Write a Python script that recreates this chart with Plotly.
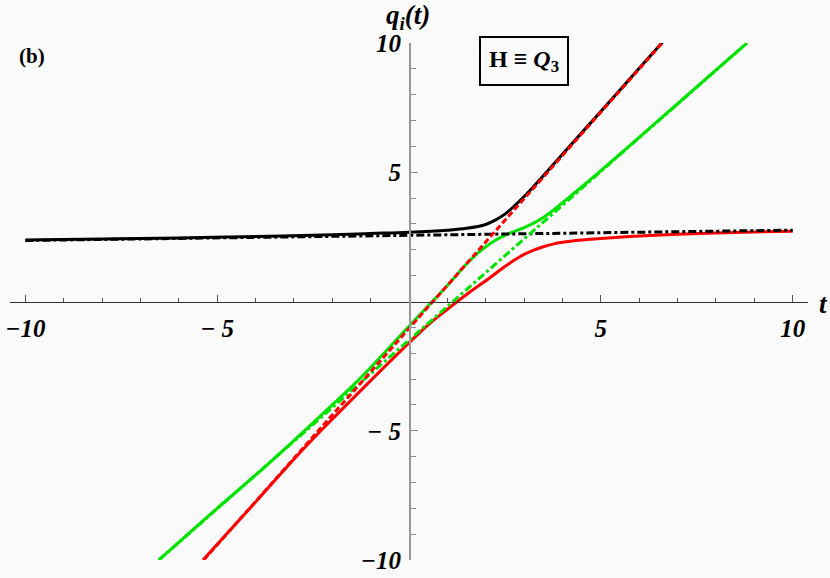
import plotly.graph_objects as go

# ---- data ----
t_black = [-10, -8, -6, -4, -2, -1, 0, 1, 1.5, 2.0, 2.25, 2.5, 2.75, 3.0, 3.25, 3.5, 4, 5, 6, 6.6]
q_black = [2.38, 2.42, 2.46, 2.51, 2.58, 2.63, 2.68, 2.76, 2.83, 2.98, 3.15, 3.38, 3.7, 4.06, 4.45, 4.86, 5.7, 7.35, 9.02, 10.02]

t_green = [-6.52, -5, -4, -3, -2, -1.5, -1, -0.5, 0, 0.55, 1, 1.5, 1.8, 2.0, 2.25, 2.5, 2.75, 3.0, 3.25, 3.5, 3.75, 4.0, 4.5, 5, 6, 7, 8, 8.81]
q_green = [-10.0, -8.0, -6.72, -5.38, -4.0, -3.3, -2.55, -1.76, -0.96, -0.09, 0.62, 1.45, 1.88, 2.12, 2.37, 2.56, 2.71, 2.86, 3.03, 3.25, 3.52, 3.82, 4.43, 5.06, 6.35, 7.65, 8.95, 10.0]

t_red = [-5.37, -4, -3, -2.5, -2, -1, 0, 0.5, 1, 1.5, 2.11, 2.5, 2.8, 3.0, 3.25, 3.5, 3.75, 4.0, 4.5, 5.0, 6, 7, 8, 9, 10]
q_red = [-10.0, -7.76, -6.1, -5.31, -4.55, -3.06, -1.6, -0.9, -0.3, 0.27, 0.92, 1.35, 1.65, 1.82, 1.99, 2.12, 2.22, 2.29, 2.38, 2.44, 2.53, 2.6, 2.65, 2.69, 2.72]

# free-motion (asymptotic) lines, endpoints
t_black_free = [-10, 10]
q_black_free = [2.36, 2.76]
t_red_free = [-5.35, 6.6]
q_red_free = [-10.0, 10.0]
t_green_free = [-6.52, 8.81]
q_green_free = [-10.0, 10.0]

x_ticks = [-10, -5, 5, 10]
x_ticktext = ["\u221210", "\u2212 5", "5", "10"]
y_ticks = [-10, -5, 5, 10]
y_ticktext = ["\u221210", "\u2212 5", "5", "10"]
minor_vals = [v for v in range(-10, 11) if v % 5 != 0]

BLACK = "#000000"
GREEN = "#00e400"
RED = "#ff0000"
BG = "#fafafa"
SERIF = "Liberation Serif, Times New Roman, Times, serif"

fig = go.Figure()
solid_w = 3
for tt, qq, col in [(t_black, q_black, BLACK), (t_green, q_green, GREEN), (t_red, q_red, RED)]:
    fig.add_trace(go.Scatter(x=tt, y=qq, mode="lines",
                             line=dict(color=col, width=solid_w, shape="spline", smoothing=1.0),
                             showlegend=False, hoverinfo="skip"))

fig.add_trace(go.Scatter(x=t_black_free, y=q_black_free, mode="lines",
                         line=dict(color=BLACK, width=3, dash="8px,3px,3px,3px"),
                         showlegend=False, hoverinfo="skip"))
fig.add_trace(go.Scatter(x=t_green_free, y=q_green_free, mode="lines",
                         line=dict(color=GREEN, width=3, dash="8px,3px,3px,3px"),
                         showlegend=False, hoverinfo="skip"))
fig.add_trace(go.Scatter(x=t_red_free, y=q_red_free, mode="lines",
                         line=dict(color=RED, width=3, dash="6px,3px"),
                         showlegend=False, hoverinfo="skip"))

tickfont = dict(family=SERIF, size=25, color="black", weight="bold", style="italic")

fig.update_layout(
    width=830, height=578,
    margin=dict(l=10, r=22, t=43, b=18),
    paper_bgcolor=BG, plot_bgcolor=BG,
    hovermode=False,
    xaxis=dict(range=[-10.4, 10.4], anchor="free", position=0.5, automargin=False,
               showgrid=False, zeroline=False,
               showline=True, linecolor="#333333", linewidth=1.3,
               tickmode="array", tickvals=x_ticks, ticktext=x_ticktext,
               ticks="inside", ticklen=7, tickwidth=1, tickcolor="#555555",
               minor=dict(tickvals=minor_vals, ticks="inside", ticklen=4, tickwidth=1, tickcolor="#555555"),
               tickfont=tickfont, ticklabelstandoff=4),
    yaxis=dict(range=[-10, 10], anchor="free", position=0.5, automargin=False,
               showgrid=False, zeroline=False,
               showline=True, linecolor="#999999", linewidth=1.5,
               tickmode="array", tickvals=y_ticks, ticktext=y_ticktext,
               ticks="inside", ticklen=7, tickwidth=1, tickcolor="#888888",
               minor=dict(tickvals=minor_vals, ticks="inside", ticklen=5, tickwidth=1, tickcolor="#888888"),
               tickfont=tickfont, ticklabelstandoff=3),
    annotations=[
        dict(x=-9.82, y=9.48, xref="x", yref="y", text="<b>(b)</b>", showarrow=False,
             font=dict(family=SERIF, size=21, color="black")),
        dict(x=2.99, y=9.3, xref="x", yref="y", text="<b>H \u2261 <i>Q</i><sub>3</sub></b>", showarrow=False,
             font=dict(family=SERIF, size=24, color="black"),
             bordercolor="black", borderwidth=2, borderpad=8, bgcolor=BG),
        dict(x=0.4987, y=1.05, xref="paper", yref="paper", text="<b><i>q<sub>i</sub>(t)</i></b>",
             showarrow=False, xanchor="center", yanchor="middle",
             font=dict(family=SERIF, size=27, color="black")),
        dict(x=1.0188, y=0.4952, xref="paper", yref="paper", text="<b><i>t</i></b>",
             showarrow=False, xanchor="center", yanchor="middle",
             font=dict(family=SERIF, size=27, color="black")),
    ],
)

fig.write_html("out.html",
               config={"displayModeBar": False, "staticPlot": True},
               post_script="document.body.style.margin='0';document.body.style.padding='0';"
                           "document.body.style.background='" + BG + "';")
